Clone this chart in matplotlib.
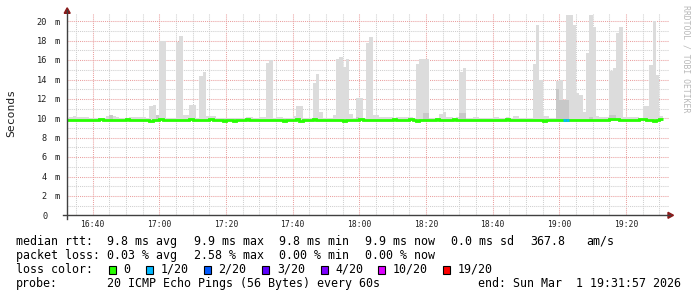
#!/usr/bin/env python3
"""SmokePing style latency graph: 3 hours of 1-minute ping samples."""
import matplotlib

matplotlib.use("Agg")
import matplotlib.pyplot as plt
import matplotlib.transforms as mtransforms
from matplotlib.lines import Line2D
from matplotlib.patches import Polygon, Rectangle

plt.rcParams["font.family"] = "DejaVu Sans Mono"

# ---- data -------------------------------------------------------------
FIRST_SAMPLE = 16 * 60 + 32  # 16:32, one sample per minute

# max rtt of the 20 pings per minute (ms)
SMOKE_TOP = [
    10.0, 10.15, 10.2, 10.15, 10.15, 10.15, 10.15, 10.0, 10.0, 10.05,
    10.05, 10.0, 10.2, 10.35, 10.2, 10.15, 10.0, 10.0, 10.0, 10.1,
    10.1, 10.1, 10.1, 10.1, 10.0, 11.27, 11.37, 10.35, 18.0, 18.0,
    10.0, 10.0, 10.0, 17.9, 18.5, 10.35, 10.35, 11.37, 11.37, 10.0,
    14.36, 14.78, 10.2, 10.25, 10.2, 10.0, 10.0, 10.0, 10.05, 10.05,
    10.05, 10.05, 10.0, 10.0, 10.1, 10.1, 10.0, 10.0, 10.1, 10.1,
    15.7, 15.98, 10.0, 10.1, 10.1, 10.0, 10.0, 10.0, 10.25, 11.27,
    11.27, 10.0, 10.0, 10.0, 13.64, 14.57, 10.65, 10.0, 10.0, 10.0,
    10.34, 16.08, 16.3, 15.3, 16.08, 10.45, 10.0, 12.06, 12.06, 10.0,
    17.8, 18.38, 10.3, 10.3, 10.1, 10.1, 10.15, 10.15, 10.0, 10.1,
    10.1, 10.1, 10.1, 10.1, 10.0, 15.6, 16.08, 16.08, 16.08, 10.0,
    10.0, 10.0, 10.45, 10.6, 10.1, 10.1, 10.0, 10.1, 14.78, 15.2,
    10.0, 10.0, 10.1, 10.1, 10.0, 10.0, 10.0, 10.0, 10.1, 10.1,
    10.0, 10.0, 10.1, 10.0, 10.25, 10.25, 10.0, 10.0, 10.0, 10.0,
    15.6, 19.6, 13.9, 10.2, 10.2, 10.0, 10.0, 13.85, 14.0, 11.9,
    20.65, 20.65, 19.6, 12.58, 12.4, 10.6, 16.77, 20.65, 19.4, 10.2,
    10.1, 10.1, 10.1, 14.88, 15.2, 18.8, 19.4, 10.1, 10.1, 10.1,
    10.1, 10.1, 10.0, 11.27, 11.27, 15.5, 20.0, 14.47, 10.25,
]
SMOKE_FLOOR = 9.72  # fastest pings sit just under the median

# minutes where most pings bunch up higher (darker smoke), sample -> ms
SMOKE_DENSE = {
    13: 10.35, 27: 10.35, 87: 10.15, 107: 10.5, 108: 10.5, 118: 10.5,
    119: 10.5, 147: 13.0, 148: 11.9, 149: 11.9, 150: 11.9, 157: 10.15,
    163: 10.35, 164: 10.35,
}

MEDIAN = [
    9.8, 9.8, 9.8, 9.8, 9.8, 9.8, 9.8, 9.8, 9.8, 9.8,
    9.9, 9.8, 9.8, 9.8, 9.8, 9.8, 9.8, 9.8, 9.9, 9.8,
    9.8, 9.8, 9.8, 9.8, 9.8, 9.7, 9.8, 9.8, 9.9, 9.8,
    9.8, 9.8, 9.8, 9.8, 9.8, 9.8, 9.8, 9.9, 9.8, 9.8,
    9.8, 9.8, 9.8, 9.9, 9.8, 9.8, 9.8, 9.7, 9.8, 9.8,
    9.7, 9.8, 9.8, 9.8, 9.9, 9.8, 9.8, 9.8, 9.8, 9.8,
    9.8, 9.8, 9.8, 9.8, 9.8, 9.7, 9.8, 9.8, 9.8, 9.9,
    9.7, 9.8, 9.8, 9.8, 9.9, 9.8, 9.8, 9.8, 9.8, 9.8,
    9.8, 9.8, 9.8, 9.7, 9.8, 9.8, 9.8, 9.8, 9.9, 9.8,
    9.8, 9.8, 9.8, 9.8, 9.8, 9.8, 9.8, 9.8, 9.9, 9.8,
    9.8, 9.8, 9.8, 9.9, 9.8, 9.7, 9.8, 9.8, 9.8, 9.8,
    9.8, 9.9, 9.8, 9.8, 9.8, 9.8, 9.9, 9.8, 9.8, 9.8,
    9.8, 9.8, 9.8, 9.8, 9.8, 9.8, 9.8, 9.8, 9.8, 9.8,
    9.8, 9.8, 9.9, 9.8, 9.8, 9.8, 9.8, 9.8, 9.8, 9.8,
    9.8, 9.8, 9.8, 9.7, 9.8, 9.8, 9.8, 9.8, 9.8, 9.8,
    9.8, 9.8, 9.8, 9.8, 9.8, 9.8, 9.8, 9.8, 9.8, 9.8,
    9.8, 9.8, 9.8, 9.9, 9.9, 9.9, 9.8, 9.8, 9.8, 9.8,
    9.8, 9.8, 9.9, 9.9, 9.8, 9.8, 9.7, 9.8, 9.9,
]
LOSS_1_OF_20 = [149, 150]  # samples where 1 of 20 pings was lost

Y_TICKS = [0, 2, 4, 6, 8, 10, 12, 14, 16, 18, 20]
X_TICKS = ["16:40", "17:00", "17:20", "17:40", "18:00", "18:20", "18:40", "19:00", "19:20"]

LOSS_LABELS = ["0", "1/20", "2/20", "3/20", "4/20", "10/20", "19/20"]
LOSS_COLORS = ["#26ff00", "#00b8ff", "#0059ff", "#5e00ff", "#7e00ff", "#dd00ff", "#ff0000"]

RTT_STATS = ["9.8 ms avg", "9.9 ms max", "9.8 ms min", "9.9 ms now", "0.0 ms sd", "367.8", "am/s"]
LOSS_STATS = ["0.03 % avg", "2.58 % max", "0.00 % min", "0.00 % now"]
PROBE = "20 ICMP Echo Pings (56 Bytes) every 60s"
END = "end: Sun Mar  1 19:31:57 2026"

# ---- layout (pixels of a 697x297 canvas) ------------------------------
W, H, DPI = 697, 297, 100
AX_L, AX_R, AX_T, AX_B = 66.7, 669.0, 13.0, 215.3
PX_PER_MIN, PX_PER_MS = 3.3333, 9.7
X0 = 16 * 60 + 32.25


def fx(px):
    return px / W


def fy(py):
    return 1 - py / H


fig = plt.figure(figsize=(W / DPI, H / DPI), dpi=DPI, facecolor="white")
ax = fig.add_axes([fx(AX_L), fy(AX_B), (AX_R - AX_L) / W, (AX_B - AX_T) / H])
ax.set_xlim(X0, X0 + (AX_R - AX_L) / PX_PER_MIN)
ax.set_ylim(0, (AX_B - AX_T) / PX_PER_MS)
for s in ax.spines.values():
    s.set_visible(False)

tick_min = [int(t[:2]) * 60 + int(t[3:]) for t in X_TICKS]
ax.set_xticks(tick_min)
ax.set_xticks(range(tick_min[0] - 5, int(X0 + 182), 5), minor=True)
ax.set_yticks(Y_TICKS)
ax.set_yticks(range(1, 21, 2), minor=True)
ax.tick_params(which="both", length=0, labelbottom=False, labelleft=False)
ax.grid(which="minor", color="#cfcfcf", linestyle=(0, (1, 1)), linewidth=0.75)
ax.grid(which="major", color="#eaa0a0", linestyle=(0, (1, 1)), linewidth=0.75)
ax.set_axisbelow(True)

# smoke
n = len(SMOKE_TOP)
xs = [FIRST_SAMPLE + i for i in range(n)]
ax.bar(xs, [t - SMOKE_FLOOR for t in SMOKE_TOP], bottom=SMOKE_FLOOR, width=1.0,
       align="edge", color="#dcdcdc", linewidth=0, antialiased=False, zorder=2)
dk = sorted(SMOKE_DENSE)
ax.bar([xs[i] for i in dk], [SMOKE_DENSE[i] - SMOKE_FLOOR for i in dk],
       bottom=SMOKE_FLOOR, width=1.0, align="edge", color="#c8c8c8",
       linewidth=0, antialiased=False, zorder=3)

# median line, coloured by loss
ax.step(xs + [xs[-1] + 1], MEDIAN + [MEDIAN[-1]], where="post", color=LOSS_COLORS[0],
        linewidth=2.0, solid_joinstyle="miter", solid_capstyle="butt", zorder=4)
for i in LOSS_1_OF_20:
    ax.hlines(MEDIAN[i], xs[i], xs[i] + 1, color=LOSS_COLORS[1], linewidth=2.0, zorder=5)

# tick labels
xlab = mtransforms.offset_copy(ax.get_xaxis_transform(), fig=fig, y=-12, units="dots")
for t, lab in zip(tick_min, X_TICKS):
    ax.text(t, 0, lab, transform=xlab, ha="center", va="baseline", fontsize=5.8, color="#202020")
ylab = mtransforms.offset_copy(ax.get_yaxis_transform(), fig=fig, y=-3.3, units="dots")
for v in Y_TICKS:
    if v == 0:
        ax.text((48 - AX_L) / (AX_R - AX_L), v, "0", transform=ylab, ha="right",
                va="baseline", fontsize=6.2, color="#202020")
        continue
    ax.text((47 - AX_L) / (AX_R - AX_L), v, f"{v}", transform=ylab, ha="right",
            va="baseline", fontsize=6.2, color="#202020")
    ax.text((54.5 - AX_L) / (AX_R - AX_L), v, "m", transform=ylab, ha="left",
            va="baseline", fontsize=6.2, color="#202020")

# axes with arrows
axis_col, arrow_col = "#404040", "#8b1a1a"
fig.add_artist(Line2D([fx(AX_L), fx(AX_L)], [fy(219), fy(10)], color=axis_col, lw=1.0))
fig.add_artist(Line2D([fx(63), fx(670)], [fy(AX_B), fy(AX_B)], color=axis_col, lw=1.0))
fig.add_artist(Polygon([(fx(64.2), fy(13.3)), (fx(70.2), fy(13.3)), (fx(67.2), fy(7.8))],
                       closed=True, color=arrow_col, transform=fig.transFigure))
fig.add_artist(Polygon([(fx(668), fy(212.3)), (fx(668), fy(218.3)), (fx(673.5), fy(215.3))],
                       closed=True, color=arrow_col, transform=fig.transFigure))

fig.text(fx(11), fy(113), "Seconds", rotation=90, ha="center", va="center", fontsize=8.2,
         color="#202020")
fig.text(fx(686), fy(5), "RRDTOOL / TOBI OETIKER", rotation=270, ha="center", va="top",
         fontsize=5.9, color="#b8b8b8")

# legend block
FS = 8.4
rows = [244.7, 258.7, 272.7, 286.7]
stat_x = [107, 194, 279, 365, 451, 530, 586]
fig.text(fx(16), fy(rows[0]), "median rtt:", fontsize=FS, va="baseline")
for x, s in zip(stat_x, RTT_STATS):
    fig.text(fx(x), fy(rows[0]), s, fontsize=FS, va="baseline")
fig.text(fx(16), fy(rows[1]), "packet loss:", fontsize=FS, va="baseline")
for x, s in zip(stat_x, LOSS_STATS):
    fig.text(fx(x), fy(rows[1]), s, fontsize=FS, va="baseline")
fig.text(fx(16), fy(rows[2]), "loss color:", fontsize=FS, va="baseline")
box_x = [108.5, 146, 203.5, 262, 320.5, 378, 443]
for x, lab, col in zip(box_x, LOSS_LABELS, LOSS_COLORS):
    fig.add_artist(Rectangle((fx(x), fy(273.5)), 7 / W, 8 / H, transform=fig.transFigure,
                             facecolor=col, edgecolor="black", linewidth=0.8))
    fig.text(fx(x + 15), fy(rows[2]), lab, fontsize=FS, va="baseline")
fig.text(fx(16), fy(rows[3]), "probe:", fontsize=FS, va="baseline")
fig.text(fx(107), fy(rows[3]), PROBE, fontsize=FS, va="baseline")
fig.text(fx(478), fy(rows[3]), END, fontsize=FS, va="baseline")

fig.savefig("out.png", dpi=DPI, facecolor="white")
